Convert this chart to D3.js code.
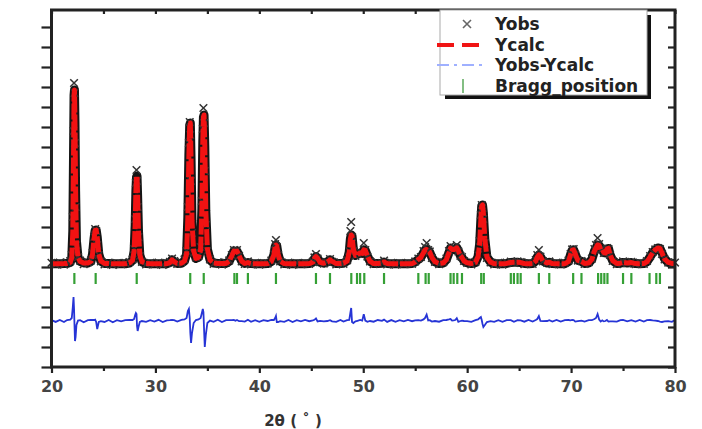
<!DOCTYPE html>
<html>
<head>
<meta charset="utf-8">
<script src="https://cdn.jsdelivr.net/npm/d3@7"></script>
<style>
  body { margin: 0; background: #fff; }
  text { font-family: "DejaVu Sans", sans-serif; font-weight: bold; }
</style>
</head>
<body>
<script>
const width = 702;
const height = 429;
const margin = { top: 10, right: 27, bottom: 62, left: 51.5 };

// [2theta, Yobs, Ycalc]
const pattern = [
  [20.0, 210, 165], [20.4, 120, 165], [20.8, 220, 165], [21.2, 120, 170],
  [21.5, 230, 180], [21.8, 300, 230],
  [21.95, 600, 450], [22.05, 2500, 1800], [22.12, 6800, 5600], [22.17, 9200, 8600],
  [22.21, 8700, 8850], [22.26, 6200, 7200], [22.32, 3000, 3800], [22.4, 1100, 1300],
  [22.55, 500, 480], [22.75, 320, 280],
  [23.1, 140, 200], [23.5, 240, 200], [23.8, 330, 280],
  [23.95, 700, 650], [24.1, 1500, 1450], [24.2, 1900, 1830], [24.3, 1800, 1850],
  [24.4, 1100, 1500], [24.55, 600, 650], [24.75, 280, 290],
  [25.1, 130, 180], [25.5, 220, 170], [25.9, 100, 160], [26.3, 200, 160],
  [26.7, 140, 160], [27.1, 210, 165], [27.5, 250, 200], [27.8, 380, 330],
  [27.95, 900, 800], [28.05, 2400, 2100], [28.12, 4200, 3800], [28.18, 4850, 4500],
  [28.23, 4300, 4550], [28.29, 3000, 3500], [28.37, 1500, 1800], [28.5, 550, 600],
  [28.7, 260, 260],
  [29.1, 130, 170], [29.5, 210, 165], [29.9, 130, 160], [30.3, 220, 160],
  [30.7, 110, 160], [31.1, 200, 165], [31.4, 260, 220], [31.6, 420, 360],
  [31.8, 300, 260], [32.1, 150, 180], [32.5, 250, 190], [32.8, 380, 300],
  [33.0, 800, 650], [33.12, 3000, 2500], [33.22, 6200, 5600], [33.3, 7250, 7100],
  [33.36, 6600, 7200], [33.43, 4300, 5400], [33.52, 1700, 2300], [33.68, 700, 800],
  [33.9, 480, 430], [34.15, 560, 480],
  [34.35, 1000, 850], [34.47, 3300, 2900], [34.56, 6900, 6300], [34.62, 7950, 7500],
  [34.68, 7200, 7600], [34.75, 4800, 6100], [34.85, 2100, 2800], [35.0, 800, 900],
  [35.25, 380, 360],
  [35.6, 160, 200], [36.0, 240, 180], [36.4, 120, 170], [36.8, 220, 180],
  [37.1, 330, 290],
  [37.35, 600, 560], [37.55, 850, 800], [37.7, 780, 770], [37.85, 850, 800],
  [38.05, 560, 570], [38.3, 280, 290],
  [38.6, 150, 180], [38.9, 280, 220], [39.2, 130, 170], [39.6, 210, 165],
  [40.0, 120, 160], [40.4, 200, 160], [40.8, 170, 170], [41.15, 320, 270],
  [41.4, 650, 600], [41.52, 1150, 1000], [41.6, 1350, 1100], [41.68, 1000, 1050],
  [41.8, 600, 650], [42.0, 280, 290],
  [42.4, 130, 170], [42.8, 220, 165], [43.2, 110, 160], [43.6, 200, 160],
  [44.0, 140, 160], [44.4, 210, 160], [44.8, 160, 170], [45.15, 270, 240],
  [45.3, 480, 420], [45.45, 650, 520], [45.6, 420, 440], [45.85, 240, 230],
  [46.2, 170, 190], [46.55, 250, 250], [46.8, 400, 360], [47.0, 260, 280],
  [47.4, 130, 170], [47.8, 230, 175], [48.1, 160, 190], [48.45, 340, 300],
  [48.65, 800, 750], [48.76, 1800, 1400], [48.84, 2250, 1600], [48.92, 1500, 1550],
  [49.05, 800, 900], [49.25, 560, 580], [49.45, 650, 640], [49.7, 750, 700],
  [49.9, 700, 680], [50.05, 1200, 860], [50.2, 850, 830], [50.4, 520, 560],
  [50.65, 280, 280],
  [51.0, 140, 175], [51.4, 220, 170], [51.8, 200, 190], [52.0, 320, 250],
  [52.3, 130, 175], [52.7, 210, 165], [53.1, 120, 160], [53.5, 200, 160],
  [53.9, 140, 160], [54.3, 210, 160], [54.7, 160, 170], [55.0, 280, 250],
  [55.3, 420, 380], [55.55, 500, 480],
  [55.8, 800, 720], [55.95, 1000, 850], [56.1, 1200, 880], [56.25, 850, 820],
  [56.4, 780, 740], [56.6, 450, 480], [56.9, 260, 260],
  [57.3, 140, 175], [57.7, 240, 200], [58.0, 420, 370],
  [58.25, 800, 720], [58.4, 1050, 950], [58.55, 900, 880], [58.7, 900, 870],
  [58.85, 950, 900], [59.0, 1100, 960], [59.15, 780, 820], [59.35, 560, 560],
  [59.5, 500, 480], [59.7, 300, 300], [60.0, 200, 210],
  [60.4, 130, 175], [60.8, 260, 220], [61.05, 600, 520],
  [61.2, 1300, 1150], [61.32, 2600, 2400], [61.4, 3100, 3050], [61.48, 2950, 3100],
  [61.56, 2400, 2700], [61.7, 1200, 1400], [61.9, 450, 500], [62.25, 230, 240],
  [62.6, 130, 170], [63.0, 210, 165], [63.4, 120, 160], [63.8, 220, 180],
  [64.2, 270, 230], [64.5, 200, 240], [64.85, 280, 240], [65.15, 250, 220],
  [65.5, 140, 175], [65.9, 220, 165], [66.3, 150, 175], [66.6, 350, 300],
  [66.75, 600, 500], [66.9, 850, 600], [67.05, 520, 520], [67.3, 280, 290],
  [67.7, 200, 200], [67.9, 280, 240],
  [68.2, 140, 170], [68.6, 220, 165], [69.0, 130, 160], [69.4, 210, 165],
  [69.75, 320, 270],
  [69.95, 650, 620], [70.1, 880, 830], [70.25, 900, 860], [70.4, 620, 650],
  [70.65, 320, 330], [71.0, 300, 280], [71.3, 150, 180], [71.7, 240, 200],
  [72.0, 420, 380],
  [72.25, 900, 800], [72.4, 1100, 950], [72.55, 1450, 1100], [72.7, 1150, 1080],
  [72.85, 850, 880], [73.0, 900, 870], [73.15, 700, 720], [73.3, 700, 700],
  [73.45, 950, 900], [73.6, 900, 930], [73.75, 600, 620], [74.0, 300, 320],
  [74.4, 140, 175], [74.75, 230, 190], [75.0, 280, 230], [75.4, 180, 200],
  [75.8, 260, 220], [76.2, 140, 170], [76.6, 220, 165], [77.0, 150, 175],
  [77.3, 300, 260],
  [77.6, 550, 500], [77.85, 750, 720], [78.1, 880, 860], [78.35, 950, 950],
  [78.55, 900, 930], [78.75, 650, 700], [79.0, 380, 400], [79.35, 220, 230],
  [79.7, 140, 180], [80.0, 220, 170],
];

const braggPositions = [
  22.2, 24.25, 28.2, 33.35, 34.65, 37.6, 37.85, 38.9, 41.6, 45.45, 46.8,
  48.85, 49.4, 49.7, 50.1, 52.0, 55.3, 56.0, 56.3, 58.4, 58.7, 59.05, 59.5,
  61.35, 61.6, 64.2, 64.5, 64.85, 65.15, 66.9, 67.9, 70.2, 71.0, 72.6, 72.9,
  73.2, 73.5, 75.0, 75.8, 77.55, 78.2, 78.55,
];

const xTickValues = [20, 30, 40, 50, 60, 70, 80];
const xMinorValues = [25, 35, 45, 55, 65, 75];
const yTickValues = d3.range(-5000, 12001, 1000);
const legendLabels = ["Yobs", "Ycalc", "Yobs-Ycalc", "Bragg_position"];

const diffOffset = -2700;
const braggTop = -300;
const braggBottom = -850;

const innerW = width - margin.left - margin.right;
const innerH = height - margin.top - margin.bottom;

const svg = d3
  .select("body")
  .append("svg")
  .attr("width", width)
  .attr("height", height);

const x = d3.scaleLinear().domain([20, 80]).range([0, innerW]);
const y = d3.scaleLinear().domain([-5000, 12850]).range([innerH, 0]);

const plot = svg
  .append("g")
  .attr("transform", `translate(${margin.left},${margin.top})`);

// bragg ticks
plot
  .selectAll(".bragg")
  .data(braggPositions)
  .join("line")
  .attr("x1", (d) => x(d))
  .attr("x2", (d) => x(d))
  .attr("y1", y(braggTop))
  .attr("y2", y(braggBottom))
  .attr("stroke", "#35a035")
  .attr("stroke-width", 2.2);

// difference
const lineDiff = d3
  .line()
  .x((d) => x(d[0]))
  .y((d) => y(d[1] - d[2] + diffOffset));

plot
  .append("path")
  .datum(pattern)
  .attr("d", lineDiff)
  .attr("fill", "none")
  .attr("stroke", "#2634d6")
  .attr("stroke-width", 1.8);

const lineCalc = d3
  .line()
  .x((d) => x(d[0]))
  .y((d) => y(d[2]));

// dark band of the dense observed crosses
plot
  .append("path")
  .datum(pattern)
  .attr("d", lineCalc)
  .attr("fill", "none")
  .attr("stroke", "#151515")
  .attr("stroke-width", 9)
  .attr("stroke-linejoin", "round");

const cross = (s) => `M${-s},${-s}L${s},${s}M${-s},${s}L${s},${-s}`;

plot
  .selectAll(".obs")
  .data(pattern)
  .join("path")
  .attr("transform", (d) => `translate(${x(d[0])},${y(d[1])})`)
  .attr("d", cross(3.8))
  .attr("stroke", "#333")
  .attr("stroke-width", 1.5)
  .attr("fill", "none");

plot
  .append("path")
  .datum(pattern)
  .attr("d", lineCalc)
  .attr("fill", "none")
  .attr("stroke", "#f21212")
  .attr("stroke-width", 5)
  .attr("stroke-linejoin", "round")
  .attr("stroke-dasharray", "16,2");

// axes
const axisColor = "#222";

const gLeft = plot
  .append("g")
  .call(d3.axisLeft(y).tickValues(yTickValues).tickSize(10).tickFormat(""));
const gRight = plot
  .append("g")
  .attr("transform", `translate(${innerW},0)`)
  .call(d3.axisRight(y).tickValues(yTickValues).tickSize(-7).tickFormat(""));
const gTop = plot
  .append("g")
  .call(
    d3.axisTop(x).tickValues(d3.range(20, 81, 5)).tickSize(-4).tickFormat("")
  );
const gBottom = plot
  .append("g")
  .attr("transform", `translate(0,${innerH})`)
  .call(d3.axisBottom(x).tickValues(xTickValues).tickSize(6).tickPadding(8));
const gBottomMinor = plot
  .append("g")
  .attr("transform", `translate(0,${innerH})`)
  .call(d3.axisBottom(x).tickValues(xMinorValues).tickSize(4).tickFormat(""));

[gLeft, gRight, gTop, gBottom, gBottomMinor].forEach((g) => {
  g.select(".domain").remove();
  g.selectAll(".tick line")
    .attr("stroke", axisColor)
    .attr("stroke-width", 2.2);
});

gBottom
  .selectAll(".tick text")
  .attr("fill", "#444")
  .style("font-size", "16px")
  .style("font-family", "DejaVu Sans")
  .style("font-weight", "bold");

plot
  .append("rect")
  .attr("width", innerW)
  .attr("height", innerH)
  .attr("fill", "none")
  .attr("stroke", axisColor)
  .attr("stroke-width", 3);

svg
  .append("text")
  .attr("x", 293)
  .attr("y", 426)
  .attr("text-anchor", "middle")
  .attr("fill", "#333")
  .style("font-size", "15px")
  .text("2θ ( ˚ )");

// legend
const legend = svg.append("g");
legend
  .append("rect")
  .attr("x", 445)
  .attr("y", 15)
  .attr("width", 206)
  .attr("height", 84)
  .attr("fill", "#111");
legend
  .append("rect")
  .attr("x", 440)
  .attr("y", 10)
  .attr("width", 207)
  .attr("height", 85)
  .attr("fill", "#fff")
  .attr("stroke", "#aaa")
  .attr("stroke-width", 1);

const rowY = [24, 45, 65, 86];

legend
  .append("path")
  .attr("transform", `translate(467,${rowY[0]})`)
  .attr("d", cross(4))
  .attr("stroke", "#666")
  .attr("stroke-width", 1.6);

legend
  .append("line")
  .attr("x1", 437)
  .attr("x2", 487)
  .attr("y1", rowY[1])
  .attr("y2", rowY[1])
  .attr("stroke", "#f01414")
  .attr("stroke-width", 4)
  .attr("stroke-dasharray", "17,8");

legend
  .append("line")
  .attr("x1", 437)
  .attr("x2", 487)
  .attr("y1", rowY[2])
  .attr("y2", rowY[2])
  .attr("stroke", "#9fb0ff")
  .attr("stroke-width", 2)
  .attr("stroke-dasharray", "12,5,3,5");

legend
  .append("line")
  .attr("x1", 463)
  .attr("x2", 463)
  .attr("y1", rowY[3] - 7)
  .attr("y2", rowY[3] + 7)
  .attr("stroke", "#5aa85a")
  .attr("stroke-width", 1.5);

legend
  .selectAll(".lab")
  .data(legendLabels)
  .join("text")
  .attr("x", 495)
  .attr("y", (d, i) => rowY[i] + 6)
  .attr("fill", "#222")
  .style("font-size", "17px")
  .text((d) => d);
</script>
</body>
</html>
